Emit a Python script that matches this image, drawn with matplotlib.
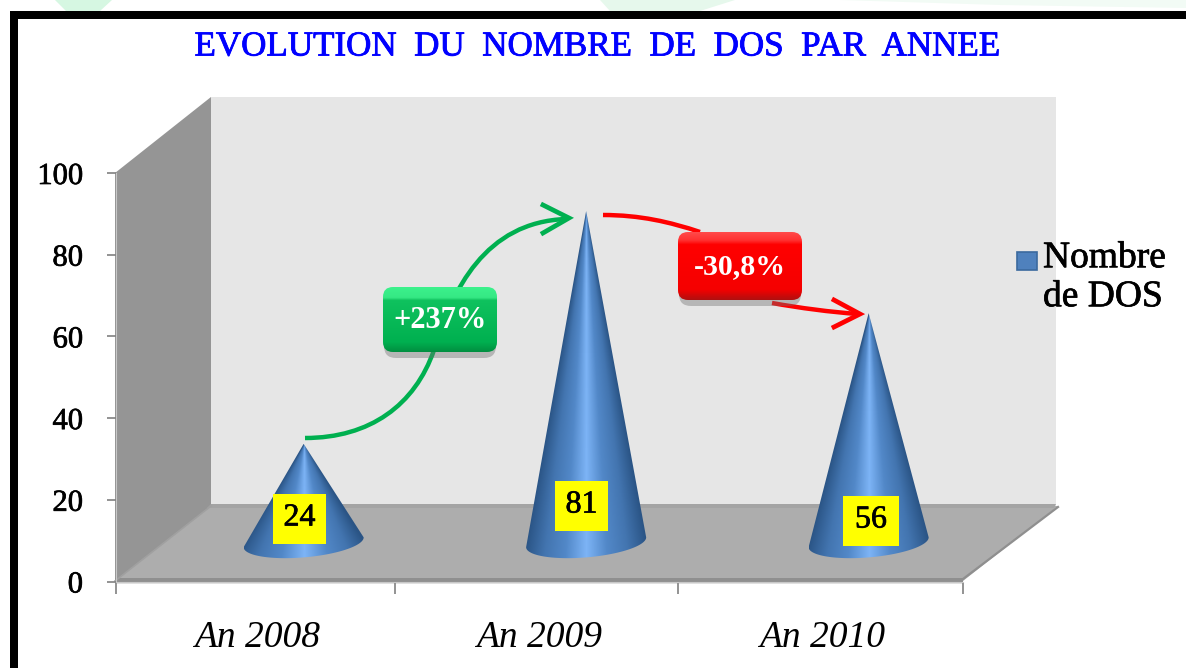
"""
Evolution du nombre de DOS par annee : cones 3D sur fond gris
"""

import numpy as np
import matplotlib
matplotlib.use('Agg')
import matplotlib.pyplot as plt
import matplotlib.patheffects as pe
from matplotlib.colors import LinearSegmentedColormap
from matplotlib.patches import FancyBboxPatch, PathPatch, Polygon, Rectangle
from matplotlib.path import Path

plt.rcParams['font.family'] = ['Liberation Serif', 'DejaVu Serif']

# Donnees
annees = ['An 2008', 'An 2009', 'An 2010']
nombre_dos = [24, 81, 56]
graduations = [0, 20, 40, 60, 80, 100]
titre = 'EVOLUTION  DU  NOMBRE  DE  DOS  PAR  ANNEE'
variation_hausse = '+237%'
variation_baisse = '-30,8%'
legende = ['Nombre', 'de DOS']

W, H = 1186, 668

# Couleurs
cone_cmap = LinearSegmentedColormap.from_list(
    'cone', ['#2a5485', '#4375b0', '#5288c8', '#7db4f6', '#5288c8', '#4375b0', '#2a5485'])
vert_cmap = LinearSegmentedColormap.from_list(
    'vert', [(0, '#3cf28c'), (0.16, '#35e884'), (0.2, '#0fc25e'), (0.85, '#00b050'), (1, '#008f40')])
rouge_cmap = LinearSegmentedColormap.from_list(
    'rouge', [(0, '#ff4a4a'), (0.12, '#ff3030'), (0.18, '#ff0000'), (0.85, '#f50000'), (1, '#b01010')])

# trait un peu plus gras, comme sur l'image d'origine
GRAS = [pe.withStroke(linewidth=0.5, foreground='black')]
GRAS_BLEU = [pe.withStroke(linewidth=0.6, foreground='#0000ff')]

fig = plt.figure(figsize=(W / 100, H / 100), dpi=100, facecolor='white')


def axe_pixels(zorder):
    a = fig.add_axes([0, 0, 1, 1], zorder=zorder)
    a.set_xlim(0, W)
    a.set_ylim(H, 0)
    a.axis('off')
    a.patch.set_alpha(0)
    return a


# ============================================================
# Fond : cadre, parois et sol
# ============================================================
fond = axe_pixels(0)

# traces verts pales du fond de page, au dessus du cadre
for pts, c in [([(55, 0), (112, 0), (100, 11), (66, 11)], '#d6f7e2'),
               ([(600, 0), (735, 0), (700, 11), (610, 11)], '#e6f8ec'),
               ([(840, 0), (1186, 0), (1186, 8), (1000, 5)], '#f2fbf5')]:
    fond.add_patch(Polygon(pts, fc=c, ec='none'))

fond.add_patch(Rectangle((10, 11), W - 10, 8, fc='black', ec='none'))
fond.add_patch(Rectangle((10, 11), 7.5, H - 11, fc='black', ec='none'))

fond.add_patch(Polygon([(211, 97), (1056, 97), (1056, 506), (211, 506)], fc='#e6e6e6', ec='none'))
fond.add_patch(Polygon([(115, 173), (211, 97), (211, 506), (115, 581)], fc='#959595', ec='none'))
fond.add_patch(Polygon([(115, 581), (211, 506), (1058, 506), (963, 581)], fc='#adadad', ec='none'))
fond.add_patch(Polygon([(211, 504), (1056, 504), (1054, 508), (207, 508)], fc='#a4a4a4', ec='none'))
fond.add_patch(Rectangle((115, 578), 848, 4, fc='#8f8f8f', ec='none'))
fond.add_patch(Rectangle((115, 582), 848, 2, fc='#e2e2e2', ec='none'))
fond.plot([963, 1058], [579, 507], color='#8f8f8f', lw=1.6)
fond.plot([115, 211], [581, 506], color='#a0a0a0', lw=1.2)

# ============================================================
# Graphique : cones sur les axes de donnees
# ============================================================
ax = fig.add_axes([115.5 / W, 1 - 581.5 / H, 847.5 / W, 408.5 / H], zorder=1)
ax.patch.set_alpha(0)
ax.set_xlim(0, 3)
ax.set_ylim(0, 100)

DECALAGE_X = 0.166   # profondeur 3D
DECALAGE_Y = 9.7
LARGEUR = 0.2125
BASE_Y = 9.6
BASE_B = 3.7
BASE_PENTE = 1.2

for i, val in enumerate(nombre_dos):
    cx = i + 0.5 + DECALAGE_X
    sommet = val + DECALAGE_Y
    t = np.linspace(np.pi, 2 * np.pi, 60)
    xs = cx + LARGEUR * np.cos(t)
    ys = BASE_Y + BASE_B * np.sin(t) + BASE_PENTE * np.cos(t)
    pts = np.column_stack([np.r_[cx, xs], np.r_[sommet, ys]])
    cone = Polygon(pts, closed=True, fc='none', ec='none', transform=ax.transData)
    ax.add_patch(cone)

    # degrade qui suit la largeur du cone a chaque hauteur
    gx, gy = np.meshgrid(np.linspace(-1, 1, 300), np.linspace(0, sommet, 400))
    demi = np.maximum((sommet - gy) / (sommet - BASE_Y), 0.01)
    shade = 0.5 + 0.5 * np.clip(gx / demi, -1, 1)
    im = ax.imshow(shade, cmap=cone_cmap, aspect='auto', origin='lower', vmin=0, vmax=1,
                   extent=[cx - LARGEUR, cx + LARGEUR, 0, sommet], zorder=3)
    im.set_clip_path(cone)

ax.set_xlim(0, 3)
ax.set_ylim(0, 100)
ax.set_yticks(graduations)
ax.set_xticks([0, 0.99, 1.99, 3])
ax.set_xticklabels([])
ax.set_xticks([0.5, 1.5, 2.5], minor=True)
ax.set_xticklabels(annees, minor=True, fontsize=27, style='italic')
ax.tick_params(axis='x', which='minor', length=0, pad=28)
ax.tick_params(axis='x', which='major', length=8.5, width=1.2, color='#808080')
ax.tick_params(axis='y', length=6.5, width=1.2, color='#808080', pad=17, labelsize=22)
for lab in ax.get_yticklabels():
    lab.set_path_effects(GRAS)
for s in ['top', 'right']:
    ax.spines[s].set_visible(False)
for s in ['left', 'bottom']:
    ax.spines[s].set_color('#c8c8c8')

# ============================================================
# Annotations : fleches, pastilles, etiquettes, legende
# ============================================================
dessus = axe_pixels(2)


def courbe(points, couleur):
    codes = [Path.MOVETO] + [Path.CURVE4] * (len(points) - 1)
    dessus.add_patch(PathPatch(Path(points, codes), fc='none', ec=couleur, lw=3.2, capstyle='butt'))


def pastille(x0, y0, x1, y1, cmap, texte, taille):
    dessus.add_patch(FancyBboxPatch((x0 + 1, y0 + 6), x1 - x0 - 2, y1 - y0,
                                    boxstyle='round,pad=0,rounding_size=12',
                                    fc='#707070', ec='none', alpha=0.4))
    box = FancyBboxPatch((x0, y0), x1 - x0, y1 - y0, boxstyle='round,pad=0,rounding_size=10',
                         fc='none', ec='none')
    dessus.add_patch(box)
    im = dessus.imshow(np.linspace(0, 1, 128).reshape(-1, 1), cmap=cmap, aspect='auto',
                       extent=[x0, x1, y1, y0], zorder=2)
    im.set_clip_path(box)
    dessus.text((x0 + x1) / 2, (y0 + y1) / 2 + 1, texte, color='white', fontsize=taille,
                fontweight='bold', ha='center', va='center', zorder=4)


VERT = '#00b050'
ROUGE = '#ff0000'
courbe([(305, 438), (370, 438), (415, 405), (434, 350)], VERT)
courbe([(434, 350), (452, 290), (485, 222), (566, 219)], VERT)
dessus.plot([543, 569, 543], [205, 218, 233], color=VERT, lw=3.4, solid_joinstyle='miter')
courbe([(603, 215), (640, 215), (670, 222), (700, 232)], ROUGE)
courbe([(772, 303), (800, 308), (830, 312), (858, 314)], ROUGE)
dessus.plot([834, 860, 834], [300, 314, 327], color=ROUGE, lw=3.4, solid_joinstyle='miter')

pastille(383, 287, 497, 352, vert_cmap, variation_hausse, 22)
pastille(678, 232, 802, 300, rouge_cmap, variation_baisse, 21.5)

# Etiquettes jaunes
boites = [(273, 494, 326, 544), (555, 481, 608, 531), (843, 496, 899, 546)]
for val, (x0, y0, x1, y1) in zip(nombre_dos, boites):
    dessus.add_patch(Rectangle((x0, y0), x1 - x0, y1 - y0, fc='#ffff00', ec='none', zorder=3))
    dessus.text((x0 + x1) / 2, (y0 + y1) / 2 - 1, str(val), color='black', fontsize=23,
                ha='center', va='center', zorder=4, path_effects=GRAS)

# Legende
dessus.add_patch(Rectangle((1017, 252), 20, 18, fc='#4f81bd', ec='#3b6a9e', lw=1.2))
for lig, y in zip(legende, [258, 297]):
    dessus.text(1043, y, lig, color='black', fontsize=27, ha='left', va='center', path_effects=GRAS)

# Titre
dessus.text(597, 47, titre, color='#0000ff', fontsize=25.2, ha='center', va='center',
            path_effects=GRAS_BLEU)

fig.savefig('out.png', dpi=100)
